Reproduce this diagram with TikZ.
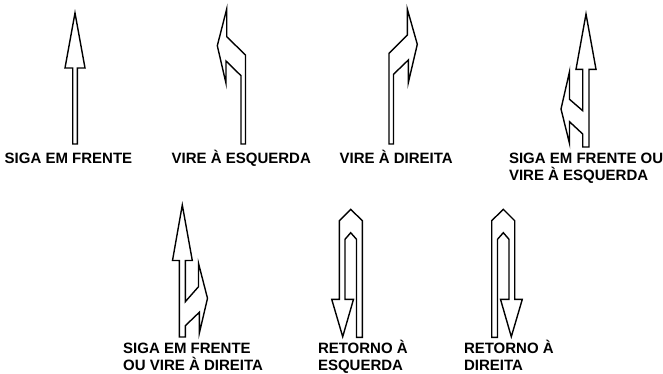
\documentclass[tikz,border=0pt]{standalone}
\usepackage{fontspec}
\setmainfont{Liberation Sans}
\begin{document}
\begin{tikzpicture}[line width=1.4pt,
    rotulo/.style={anchor=base west,inner sep=0pt,align=left,
                   font=\fontsize{15}{17}\selectfont\bfseries}]
  \begin{scope}[x=1pt,y=-1pt]
    \useasboundingbox (0,0) rectangle (663,373);
    % siga em frente
    \draw (72.7,144) -- (72.7,68) -- (65,68) -- (75,13) -- (85,68) -- (77.3,68) -- (77.3,144) -- cycle;
    % vire a esquerda
    \draw (241,144) -- (241,75.7) -- (226,61) -- (226,83.3) -- (217.3,45.7) -- (226.7,9)
          -- (226.7,36.7) -- (245.5,55) -- (245.5,144) -- cycle;
    % vire a direita
    \draw (389,144) -- (389,53.3) -- (407.3,35) -- (407.3,9) -- (417.3,44.3) -- (408.3,82.7)
          -- (408.3,60) -- (393.5,74.3) -- (393.5,144) -- cycle;
    % siga em frente ou vire a esquerda
    \draw (582.7,147) -- (582.7,134) -- (569.5,121.7) -- (569.5,143.5) -- (561,109) -- (569.5,71.7)
          -- (569.5,99.3) -- (582.7,110.7) -- (582.7,69.3) -- (576,69.3) -- (586,14) -- (596,69.3)
          -- (589,69.3) -- (589,147) -- cycle;
    % siga em frente ou vire a direita
    \draw (179.3,337) -- (179.3,260.5) -- (172.5,260.5) -- (182.3,205) -- (192.3,260.5)
          -- (185.3,260.5) -- (185.3,301.7) -- (198.5,286.7) -- (198.5,263.3) -- (207.5,298.3)
          -- (199.3,333.3) -- (199.3,312.3) -- (185.3,325.7) -- (185.3,337) -- cycle;
    % retornos (esquerda e direita, espelhados)
    \foreach \o/\s in {0/1, 854/-1}
      {\begin{scope}[shift={(\o,0)},xscale=\s]
         \draw (342.7,336.7) -- (353.5,299.3) -- (345,299.3) -- (345,239.3) -- (350.7,232.7)
               -- (356.5,239.3) -- (356.5,337.3) -- (362.3,337.3) -- (362.3,220.7) -- (350.7,209.3)
               -- (339.3,220.7) -- (339.3,299.3) -- (331.7,299.3) -- cycle;
       \end{scope}}
    % rotulos (base = ultima linha)
    \node[rotulo] (sigafrente) at (4,163.3) {SIGA EM FRENTE};
    \node[rotulo] (esquerda) at (171,163.3) {VIRE À ESQUERDA};
    \node[rotulo] (direita) at (339,163.3) {VIRE À DIREITA};
    \node[rotulo] (sigaesq) at (508.3,180.3) {SIGA EM FRENTE OU\\VIRE À ESQUERDA};
    \node[rotulo] (sigadir) at (122.5,370.3) {SIGA EM FRENTE\\OU VIRE À DIREITA};
    \node[rotulo] (retesq) at (317.3,370.3) {RETORNO À\\ESQUERDA};
    \node[rotulo] (retdir) at (463.3,370.3) {RETORNO À\\DIREITA};
  \end{scope}
\end{tikzpicture}
\end{document}
